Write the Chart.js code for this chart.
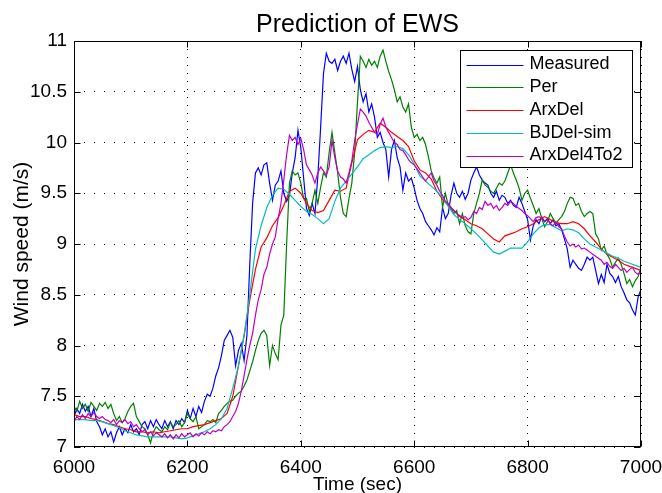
<!DOCTYPE html>
<html>
<head>
<meta charset="utf-8">
<script src="https://cdn.jsdelivr.net/npm/chart.js@4.4.1/dist/chart.umd.min.js"></script>
<style>
  html, body { margin: 0; padding: 0; background: #fff; }
  #wrap { width: 662px; height: 493px; }
</style>
</head>
<body>
<div id="wrap"><canvas id="c" width="662" height="493"></canvas></div>
<script>
// ---- data ----
const chartTitle = 'Prediction of EWS';
const xTitle = 'Time (sec)';
const yTitle = 'Wind speed (m/s)';
const seriesNames = ['Measured', 'Per', 'ArxDel', 'BJDel-sim', 'ArxDel4To2'];
const xTicks = [6000, 6200, 6400, 6600, 6800, 7000];
const yTicks = [7, 7.5, 8, 8.5, 9, 9.5, 10, 10.5, 11];

const startTime = 6000;
const fineStep = 5;    // s, Measured / Per / ArxDel4To2
const coarseStep = 10; // s, ArxDel / BJDel-sim

const measured = [
  7.30,7.38,7.33,7.42,7.35,7.40,7.30,7.38,7.25,7.20,7.12,7.18,7.10,7.15,7.05,7.14,7.20,7.12,7.18,7.14,
  7.22,7.15,7.18,7.12,7.22,7.25,7.18,7.26,7.20,7.27,7.22,7.18,7.26,7.20,7.25,7.18,7.26,7.22,7.28,7.24,
  7.36,7.28,7.38,7.30,7.40,7.34,7.45,7.52,7.50,7.58,7.70,7.78,7.90,8.05,8.10,8.15,8.08,7.80,7.95,8.02,
  7.85,8.10,8.80,9.40,9.70,9.75,9.68,9.78,9.80,9.60,9.43,9.58,9.62,9.72,9.50,9.42,9.48,9.70,9.85,10.12,
  9.95,9.65,9.35,9.28,9.40,9.30,9.66,10.15,10.68,10.88,10.80,10.78,10.82,10.71,10.80,10.85,10.78,10.88,10.72,10.60,
  10.75,10.52,10.40,10.48,10.30,10.38,10.25,10.05,10.10,10.00,9.93,9.66,9.93,10.02,9.85,9.76,9.53,9.70,9.62,9.65,
  9.55,9.43,9.35,9.30,9.22,9.18,9.14,9.09,9.16,9.12,9.36,9.25,9.30,9.48,9.60,9.50,9.46,9.52,9.44,9.50,
  9.63,9.70,9.76,9.68,9.63,9.60,9.58,9.50,9.46,9.52,9.43,9.48,9.46,9.40,9.43,9.38,9.36,9.46,9.40,9.32,
  9.24,9.04,9.18,9.24,9.20,9.27,9.22,9.25,9.20,9.24,9.18,9.20,9.14,9.05,8.95,8.77,8.84,8.80,8.76,8.74,
  8.80,8.87,8.84,8.87,8.74,8.61,8.70,8.62,8.80,8.71,8.68,8.62,8.68,8.58,8.52,8.45,8.42,8.35,8.30,8.48,
  8.55
];

const per = [
  7.40,7.35,7.45,7.38,7.42,7.35,7.44,7.40,7.36,7.43,7.40,7.44,7.38,7.42,7.33,7.26,7.30,7.24,7.28,7.35,
  7.40,7.43,7.30,7.25,7.20,7.18,7.12,7.04,7.15,7.20,7.17,7.15,7.20,7.17,7.24,7.20,7.22,7.26,7.20,7.24,
  7.33,7.28,7.25,7.30,7.18,7.20,7.22,7.26,7.25,7.27,7.24,7.33,7.36,7.40,7.43,7.45,7.46,7.50,7.53,7.55,
  7.60,7.66,7.75,7.84,7.95,8.05,8.12,8.15,8.10,7.80,8.00,7.92,7.86,8.20,8.30,9.00,9.60,9.72,9.68,9.70,
  9.60,9.45,9.45,9.32,9.40,9.53,9.40,9.56,9.70,9.66,9.90,10.10,9.90,9.70,9.46,9.30,9.27,9.45,9.60,9.90,
  10.40,10.85,10.80,10.74,10.82,10.76,10.80,10.74,10.85,10.91,10.80,10.70,10.62,10.52,10.40,10.45,10.35,10.30,10.38,10.15,
  10.05,10.08,10.02,10.05,9.98,9.86,9.72,9.65,9.60,9.66,9.36,9.50,9.38,9.35,9.30,9.33,9.20,9.30,9.18,9.12,
  9.10,9.30,9.40,9.50,9.63,9.58,9.56,9.52,9.50,9.55,9.60,9.58,9.62,9.70,9.78,9.70,9.63,9.55,9.43,9.50,
  9.53,9.45,9.38,9.30,9.35,9.25,9.17,9.22,9.30,9.25,9.20,9.24,9.27,9.32,9.40,9.46,9.45,9.38,9.40,9.32,
  9.27,9.30,9.32,9.30,9.10,9.05,8.94,8.98,8.90,8.85,8.77,8.82,8.86,8.80,8.71,8.61,8.65,8.58,8.64,8.68,
  8.77
];

const arxDel = [
  7.32,7.30,7.30,7.28,7.27,7.25,7.23,7.22,7.20,7.18,
  7.17,7.15,7.15,7.14,7.15,7.14,7.15,7.16,7.17,7.18,
  7.18,7.20,7.21,7.22,7.24,7.26,7.28,7.33,7.50,7.80,
  8.10,8.45,8.75,8.97,9.06,9.18,9.26,9.38,9.52,9.55,
  9.50,9.40,9.33,9.31,9.33,9.43,9.53,9.52,9.55,9.80,
  10.03,10.08,10.12,10.10,10.19,10.15,10.10,10.06,10.02,9.96,
  9.82,9.73,9.70,9.64,9.52,9.44,9.38,9.33,9.27,9.24,
  9.20,9.18,9.15,9.10,9.05,9.02,9.08,9.10,9.12,9.15,
  9.17,9.20,9.24,9.27,9.24,9.21,9.20,9.20,9.22,9.20,
  9.15,9.08,9.02,8.95,8.90,8.87,8.84,8.80,8.78,8.76,
  8.74
];

const bjDelSim = [
  7.27,7.27,7.27,7.26,7.26,7.25,7.23,7.21,7.19,7.16,
  7.14,7.12,7.11,7.10,7.10,7.10,7.10,7.10,7.09,7.08,
  7.09,7.11,7.13,7.15,7.18,7.22,7.28,7.38,7.58,7.80,
  8.10,8.50,8.95,9.18,9.36,9.48,9.55,9.54,9.49,9.43,
  9.37,9.32,9.29,9.25,9.20,9.25,9.42,9.55,9.62,9.69,
  9.76,9.84,9.88,9.92,9.95,9.96,9.95,9.96,9.94,9.88,
  9.79,9.67,9.62,9.57,9.52,9.46,9.37,9.29,9.24,9.20,
  9.15,9.10,9.04,8.98,8.92,8.90,8.93,8.96,8.96,8.96,
  9.02,9.10,9.16,9.19,9.19,9.16,9.13,9.15,9.14,9.11,
  9.05,9.00,8.97,8.94,8.91,8.88,8.86,8.83,8.81,8.79,
  8.77
];

const arxDel4To2 = [
  7.25,7.30,7.27,7.32,7.28,7.33,7.30,7.34,7.30,7.28,7.30,7.27,7.26,7.24,7.27,7.22,7.26,7.24,7.27,7.23,
  7.25,7.20,7.22,7.18,7.15,7.17,7.12,7.15,7.11,7.14,7.12,7.10,7.13,7.09,7.12,7.08,7.12,7.09,7.13,7.10,
  7.12,7.14,7.10,7.13,7.11,7.14,7.12,7.15,7.13,7.16,7.15,7.17,7.16,7.20,7.22,7.25,7.30,7.35,7.43,7.55,
  7.70,7.86,8.00,8.12,8.30,8.45,8.55,8.70,8.77,8.90,9.00,9.07,9.25,9.40,9.63,9.88,10.07,10.02,10.05,9.98,
  10.04,9.93,9.78,9.73,9.68,9.60,9.70,9.76,9.72,9.68,9.76,10.02,9.85,9.72,9.66,9.64,9.60,9.70,9.82,10.02,
  10.18,10.33,10.30,10.26,10.20,10.15,10.10,10.08,10.18,10.24,10.15,10.10,10.05,10.00,9.98,9.93,9.92,9.88,9.83,9.80,
  9.78,9.74,9.70,9.66,9.62,9.66,9.70,9.62,9.58,9.52,9.48,9.42,9.40,9.36,9.33,9.30,9.28,9.26,9.27,9.24,
  9.26,9.32,9.30,9.36,9.34,9.42,9.38,9.40,9.35,9.38,9.33,9.36,9.40,9.38,9.42,9.40,9.37,9.35,9.33,9.30,
  9.28,9.25,9.22,9.26,9.27,9.25,9.22,9.24,9.20,9.18,9.22,9.17,9.15,9.08,9.02,8.98,9.00,8.97,8.99,8.95,
  8.96,8.94,8.92,8.90,8.88,8.86,8.84,8.80,8.82,8.78,8.76,8.80,8.77,8.74,8.76,8.72,8.75,8.77,8.72,8.70,
  8.74
];

const seriesColors = ['#0000ff', '#008000', '#ff0000', '#00bfbf', '#bf00bf'];

// ---- build datasets ----
function toPoints(values, step) {
  return values.map((v, i) => ({ x: startTime + i * step, y: v }));
}
const seriesValues = [measured, per, arxDel, bjDelSim, arxDel4To2];
const seriesSteps = [fineStep, fineStep, coarseStep, coarseStep, fineStep];

const FONT = "'Liberation Sans', Arial, Helvetica, sans-serif";

const datasets = seriesNames.map((name, i) => ({
  label: name,
  data: toPoints(seriesValues[i], seriesSteps[i]),
  borderColor: seriesColors[i],
  backgroundColor: seriesColors[i],
  borderWidth: 1.2,
  pointRadius: 0,
  tension: 0,
  fill: false,
  order: seriesNames.length - i
}));

// title centred over the plot area (MATLAB style)
const titlePlugin = {
  id: 'axesTitle',
  afterDraw(chart) {
    const { ctx, chartArea: ca } = chart;
    ctx.save();
    ctx.font = '25px ' + FONT;
    ctx.fillStyle = '#000';
    ctx.textAlign = 'center';
    ctx.textBaseline = 'alphabetic';
    ctx.fillText(chartTitle, (ca.left + ca.right) / 2, ca.top - 9);
    ctx.restore();
  }
};

// inward ticks + full box
const boxPlugin = {
  id: 'boxPlugin',
  afterDatasetsDraw(chart) {
    const { ctx, chartArea: ca, scales: { x, y } } = chart;
    const L = Math.round(ca.left) + 0.5, R = Math.round(ca.right) - 0.5;
    const T = Math.round(ca.top) + 0.5, B = Math.round(ca.bottom) - 0.5;
    const tl = 6;
    ctx.save();
    ctx.strokeStyle = '#000';
    ctx.lineWidth = 1;
    ctx.setLineDash([]);
    ctx.beginPath();
    x.ticks.forEach(t => {
      const px = Math.round(x.getPixelForValue(t.value)) + 0.5;
      ctx.moveTo(px, B); ctx.lineTo(px, B - tl);
      ctx.moveTo(px, T); ctx.lineTo(px, T + tl);
    });
    y.ticks.forEach(t => {
      const py = Math.round(y.getPixelForValue(t.value)) + 0.5;
      ctx.moveTo(L, py); ctx.lineTo(L + tl, py);
      ctx.moveTo(R, py); ctx.lineTo(R - tl, py);
    });
    ctx.stroke();
    ctx.strokeRect(L, T, R - L, B - T);
    ctx.restore();
  }
};

// MATLAB-style legend box inside plot area (top-right)
const legendPlugin = {
  id: 'matlabLegend',
  afterDraw(chart) {
    const { ctx, chartArea: ca } = chart;
    const fontSize = 18;
    ctx.save();
    ctx.font = fontSize + 'px ' + FONT;
    const sample = 57, gap = 6, padL = 6, padR = 10, rowH = 22.75, padT = 14;
    let maxW = 0;
    chart.data.datasets.forEach(d => { maxW = Math.max(maxW, ctx.measureText(d.label).width); });
    const w = padL + sample + gap + maxW + padR;
    const h = padT + rowH * (chart.data.datasets.length - 1) + 12;
    const right = Math.round(ca.right - 9) + 0.5;
    const top = Math.round(ca.top + 9) + 0.5;
    const left = Math.round(right - w) + 0.5;
    ctx.fillStyle = '#fff';
    ctx.fillRect(left, top, right - left, h);
    ctx.strokeStyle = '#000';
    ctx.lineWidth = 1;
    ctx.strokeRect(left, top, right - left, h);
    chart.data.datasets.forEach((d, i) => {
      const cy = top + padT + i * rowH;
      ctx.strokeStyle = d.borderColor;
      ctx.lineWidth = 1;
      ctx.beginPath();
      ctx.moveTo(left + padL, Math.round(cy) + 0.5);
      ctx.lineTo(left + padL + sample, Math.round(cy) + 0.5);
      ctx.stroke();
      ctx.fillStyle = '#000';
      ctx.textBaseline = 'middle';
      ctx.textAlign = 'left';
      ctx.fillText(d.label, left + padL + sample + gap, cy);
    });
    ctx.restore();
  }
};

new Chart(document.getElementById('c'), {
  type: 'line',
  data: { datasets },
  options: {
    responsive: false,
    animation: false,
    events: [],
    layout: { padding: { left: 0, right: 21, top: 41, bottom: 0 } },
    plugins: {
      legend: { display: false },
      tooltip: { enabled: false },
      title: { display: false }
    },
    scales: {
      x: {
        type: 'linear',
        min: xTicks[0],
        max: xTicks[xTicks.length - 1],
        afterBuildTicks: s => { s.ticks = xTicks.map(v => ({ value: v })); },
        afterFit: s => { s.height = 46; s.paddingLeft = 0; s.paddingRight = 0; },
        ticks: {
          color: '#000',
          font: { family: FONT, size: 19 },
          padding: 9,
          maxRotation: 0,
          callback: v => String(v)
        },
        grid: { color: '#000', lineWidth: 1, drawTicks: false },
        border: { display: false, dash: [1, 7] },
        title: {
          display: true,
          text: xTitle,
          color: '#000',
          font: { family: FONT, size: 19, lineHeight: 1 },
          padding: { top: 0, bottom: -1 }
        }
      },
      y: {
        type: 'linear',
        min: yTicks[0],
        max: yTicks[yTicks.length - 1],
        afterBuildTicks: s => { s.ticks = yTicks.map(v => ({ value: v })); },
        afterFit: s => { s.width = 74; s.paddingTop = 0; s.paddingBottom = 0; },
        ticks: {
          color: '#000',
          font: { family: FONT, size: 19 },
          padding: 7,
          callback: v => String(v)
        },
        grid: { color: '#000', lineWidth: 1, drawTicks: false },
        border: { display: false, dash: [1, 9] },
        title: {
          display: true,
          text: yTitle,
          color: '#000',
          font: { family: FONT, size: 21, lineHeight: 1 },
          padding: { top: 12, bottom: 0 }
        }
      }
    }
  },
  plugins: [boxPlugin, legendPlugin, titlePlugin]
});
</script>
</body>
</html>
